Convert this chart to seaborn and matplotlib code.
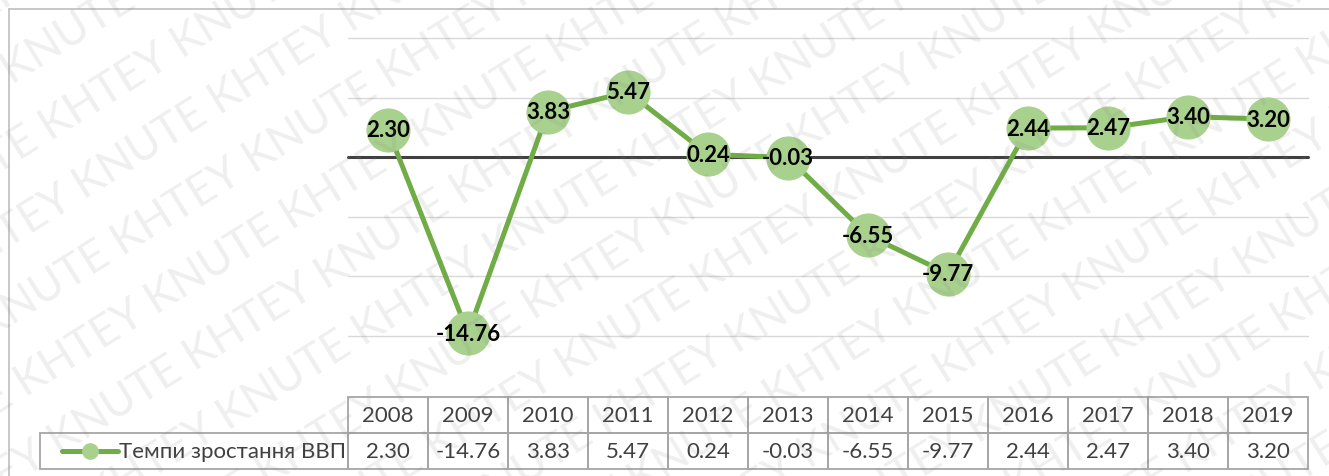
import matplotlib.pyplot as plt
import seaborn as sns
import pandas as pd
import numpy as np
from matplotlib.patches import Rectangle
from matplotlib.lines import Line2D

years = ['2008', '2009', '2010', '2011', '2012', '2013', '2014', '2015', '2016', '2017', '2018', '2019']
growth = [2.30, -14.76, 3.83, 5.47, 0.24, -0.03, -6.55, -9.77, 2.44, 2.47, 3.40, 3.20]
series_name = 'Темпи зростання ВВП'

df = pd.DataFrame({'year': years, 'growth': growth})

sns.set_style('white')
plt.rcParams['font.family'] = ['Lato', 'DejaVu Sans']

W, H = 1329, 477
fig = plt.figure(figsize=(W / 100, H / 100), dpi=100)
ax = fig.add_axes([348 / W, 1 - 337 / H, 960 / W, 298 / H])

line_c = '#70ad47'
mark_c = '#a9d18e'

# gridlines
for g in [10, 5, -5, -10, -15]:
    ax.axhline(g, color='#d9d9d9', lw=1, zorder=0)
ax.axhline(0, color='#404040', lw=2.2, zorder=1)

sns.lineplot(data=df, x='year', y='growth', ax=ax, color=line_c, lw=3.6,
             marker='o', markersize=31, markerfacecolor=mark_c,
             markeredgecolor=mark_c, zorder=3, sort=False)
for l in ax.lines:
    l.set_clip_on(False)

for i, v in enumerate(growth):
    ax.text(i, v, f'{v:.2f}', ha='center', va='center', fontsize=16,
            fontweight='bold', color='black', zorder=5)

ax.set_xlim(-0.5, len(years) - 0.5)
ax.set_ylim(-15, 10)
ax.set_xticks([])
ax.set_yticks([])
ax.set_xlabel('')
ax.set_ylabel('')
for s in ax.spines.values():
    s.set_visible(False)

# data table
cell_text = [[series_name] + [f'{v:.2f}' for v in growth]]
tbl = ax.table(cellText=cell_text, colLabels=[''] + years,
               colWidths=[308 / 1268] + [80 / 1268] * 12,
               cellLoc='center',
               bbox=[(40 - 348) / 960, (337 - 470) / 298, 1268 / 960, 72 / 298])
tbl.auto_set_font_size(False)
for (r, c), cell in tbl.get_celld().items():
    cell.set_edgecolor('#a6a6a6')
    cell.set_linewidth(1.3)
    cell.get_text().set_fontsize(16)
    cell.get_text().set_color('#404040')
    cell.set_facecolor('none')
tbl[(0, 0)].visible_edges = ''
tbl[(1, 0)].get_text().set_text('')
fig.text(119 / W, 1 - 452 / H, series_name, ha='left', va='center',
         fontsize=16, color='#404040')

# legend key in the table
fig.add_artist(Line2D([62 / W, 118 / W], [1 - 452 / H] * 2, color=line_c, lw=3.6))
fig.add_artist(Line2D([90 / W], [1 - 452 / H], marker='o', markersize=11,
                      color=mark_c, markeredgecolor=mark_c))

# outer frame
fig.add_artist(Rectangle((9 / W, -0.05), 1.2, 1 - 10 / H + 0.05,
                         transform=fig.transFigure, fill=False,
                         edgecolor='#bfbfbf', lw=1.2))

# watermark
unit = 'KNUTE KHTEY '
tmp = fig.text(0, 0, unit, fontsize=32)
fig.canvas.draw()
uw = tmp.get_window_extent().width
tmp.remove()

ang = np.radians(32)
d = np.array([np.cos(ang), np.sin(ang)])
n = np.array([-np.sin(ang), np.cos(ang)])
period = 68
for k in range(-12, 13):
    for j in range(-8, 9):
        p = np.array([W / 2, H / 2]) + k * period * n + (j + 0.5 * (k % 2)) * uw * d
        if -uw < p[0] < W + 20 and -uw < p[1] < H + 20:
            fig.text(p[0] / W, p[1] / H, unit.strip(), rotation=np.degrees(ang),
                     ha='left', va='baseline', rotation_mode='anchor',
                     fontsize=32, color=(0.5, 0.5, 0.5, 0.13), zorder=10)

fig.savefig('out.png', dpi=100)
